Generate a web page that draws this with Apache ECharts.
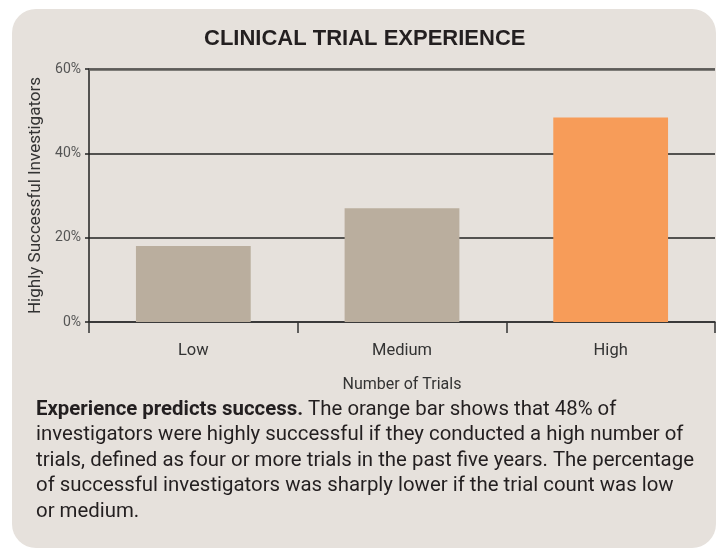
<!DOCTYPE html>
<html>
<head>
<meta charset="utf-8">
<script src="https://cdn.jsdelivr.net/npm/echarts@6/dist/echarts.min.js"></script>
<style>
html,body{margin:0;padding:0;background:#ffffff;}
#chart{width:719px;height:549px;}
</style>
</head>
<body>
<div id="chart"></div>
<script>
var categories = ['Low', 'Medium', 'High'];
var values = [18, 27, 48.5];
var yTicks = [0, 20, 40, 60];
var titleText = 'CLINICAL TRIAL EXPERIENCE';
var yName = 'Highly Successful Investigators';
var xName = 'Number of Trials';
var captionBold = 'Experience predicts success.';
var captionLines = [
  ' The orange bar shows that 48% of',
  'investigators were highly successful if they conducted a high number of',
  'trials, defined as four or more trials in the past five years. The percentage',
  'of successful investigators was sharply lower if the trial count was low',
  'or medium.'
];

var narrow = 'Roboto, "Liberation Sans", sans-serif';
var chart = echarts.init(document.getElementById('chart'), null, {renderer: 'canvas'});
var barColors = ['#baae9e', '#baae9e', '#f79c59'];

var option = {
  backgroundColor: '#ffffff',
  animation: false,
  graphic: [
    {type: 'rect', z: -10, silent: true,
     shape: {x: 12, y: 9, width: 704, height: 539, r: 24},
     style: {fill: '#e6e1dc'}},
    {type: 'text', left: 204, top: 28, z: 10,
     style: {text: titleText, font: 'bold 22px "Liberation Sans", Arial, sans-serif', fill: '#231f20'}},
    {type: 'text', left: 36, top: 397, z: 10,
     style: {
       text: '{b|' + captionBold + '}{n|' + captionLines[0] + '}\n{n|' + captionLines.slice(1).join('}\n{n|') + '}',
       lineHeight: 25.5,
       rich: {
         b: {font: 'bold 20.4px ' + narrow, fill: '#231f20', lineHeight: 25.5},
         n: {font: '20.4px ' + narrow, fill: '#231f20', lineHeight: 25.5}
       }
     }}
  ],
  grid: {left: 89, right: 4, top: 69, bottom: 227, containLabel: false},
  xAxis: {
    type: 'category',
    data: categories,
    name: xName,
    nameLocation: 'middle',
    nameGap: 55,
    nameTextStyle: {fontFamily: narrow, fontSize: 16, color: '#333'},
    axisLine: {lineStyle: {color: '#333', width: 1.5}},
    axisTick: {show: true, length: 11, lineStyle: {color: '#333', width: 1.5}},
    axisLabel: {fontFamily: narrow, fontSize: 16.5, color: '#333', margin: 20}
  },
  yAxis: {
    type: 'value',
    min: 0, max: 60, interval: 20,
    name: yName,
    nameLocation: 'middle',
    nameGap: 41,
    nameTextStyle: {fontFamily: narrow, fontSize: 17, color: '#333'},
    axisLine: {show: true, lineStyle: {color: '#222', width: 1.5}},
    axisTick: {show: true, length: 4, lineStyle: {color: '#222', width: 1.5}},
    axisLabel: {fontFamily: narrow, fontSize: 14, color: '#555', margin: 8,
      formatter: function (v) { return v + '%'; }},
    splitLine: {show: true, lineStyle: {color: ['#222', '#222', '#222', '#5d5b58'], width: 1.5}}
  },
  series: [{
    type: 'bar',
    data: values.map(function (v, i) { return {value: v, itemStyle: {color: barColors[i]}}; }),
    barWidth: '55%',
    markLine: {
      silent: true, symbol: 'none', label: {show: false},
      lineStyle: {color: '#5d5b58', width: 2.5, type: 'solid'},
      data: [{yAxis: 60}]
    }
  }]
};
chart.setOption(option);
</script>
</body>
</html>
